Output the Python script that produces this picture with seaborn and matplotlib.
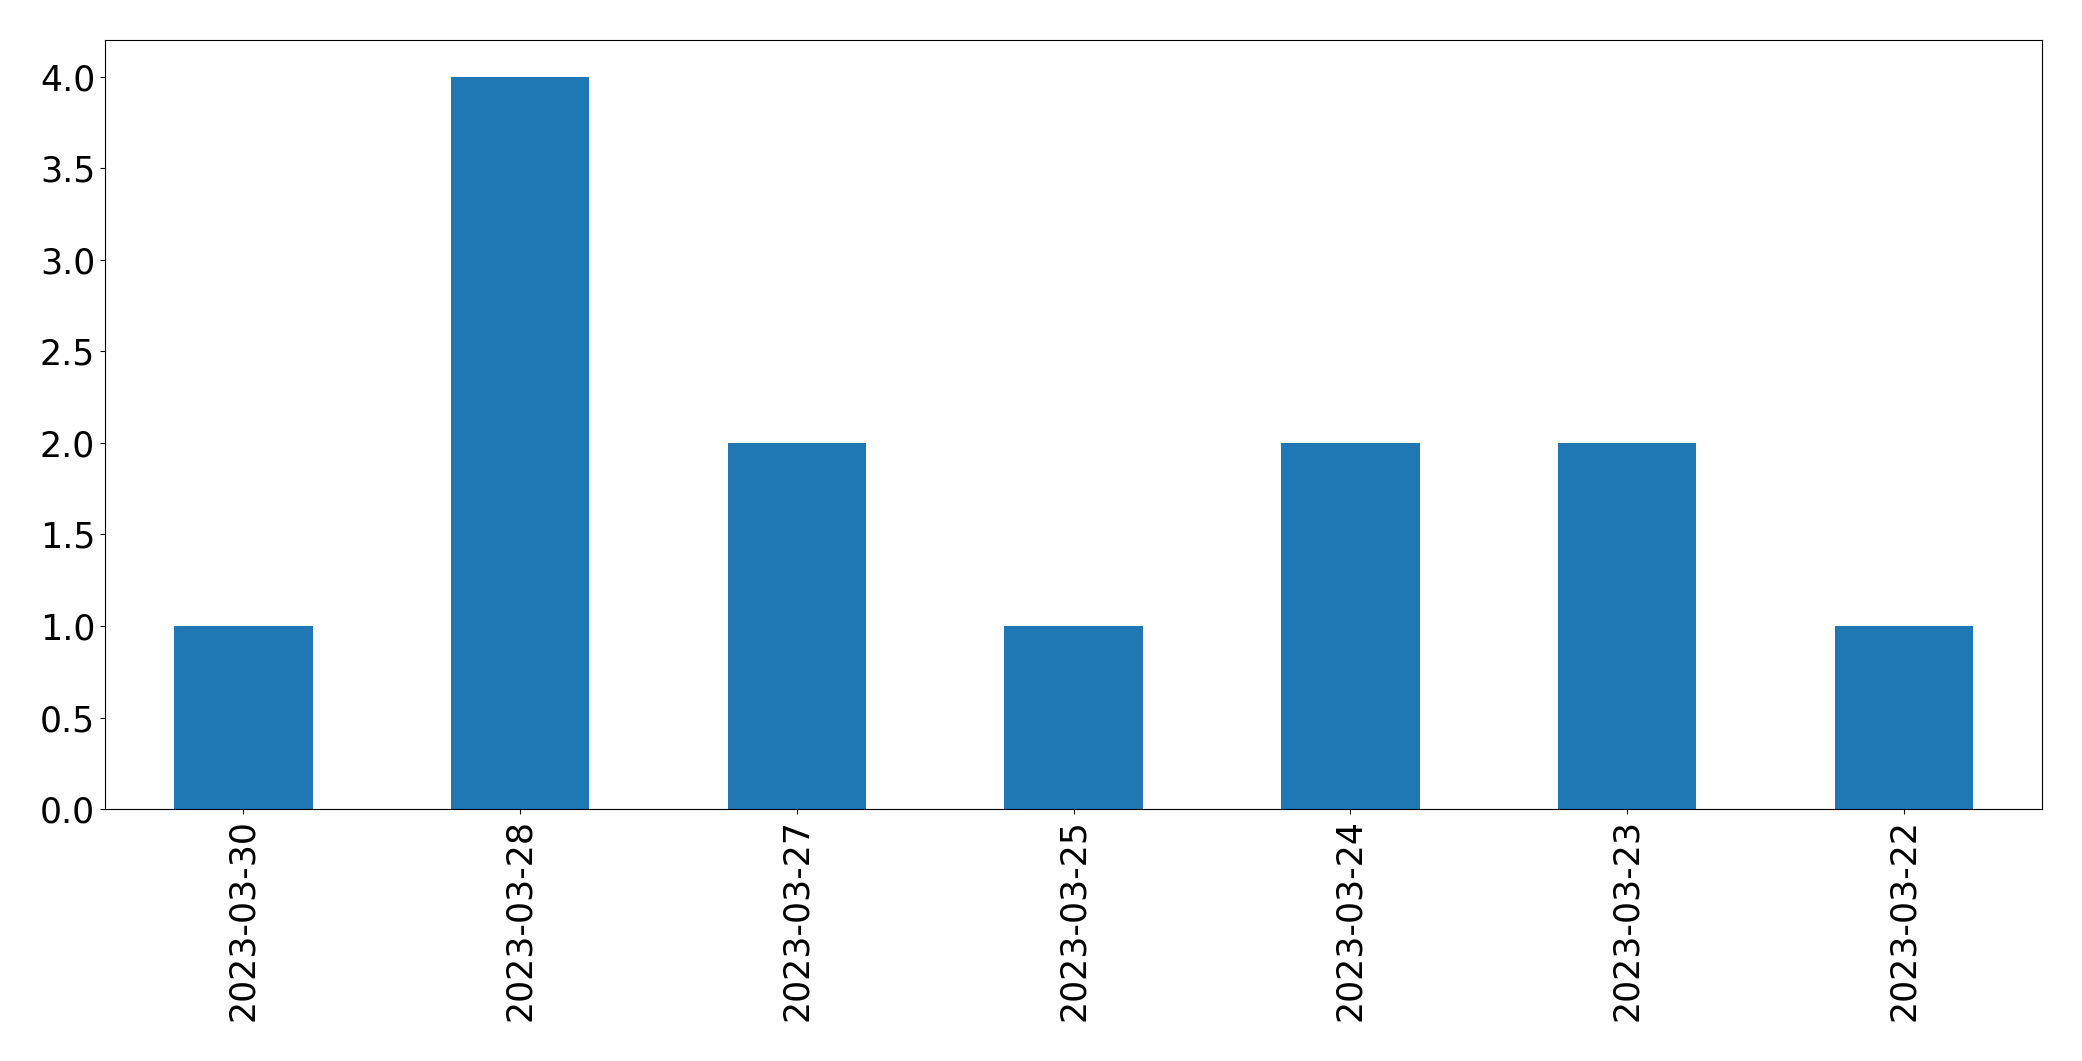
import matplotlib
matplotlib.use("Agg")
import matplotlib.pyplot as plt
import seaborn as sns
import pandas as pd

# counts per date (order as shown)
dates = ["2023-03-30", "2023-03-28", "2023-03-27", "2023-03-25",
         "2023-03-24", "2023-03-23", "2023-03-22"]
counts = [1, 4, 2, 1, 2, 2, 1]

df = pd.DataFrame({"date": dates, "count": counts})

fig, ax = plt.subplots(figsize=(20.82, 10.61), dpi=100)
sns.barplot(x="date", y="count", data=df, order=dates, color="#1f77b4",
            saturation=1, width=0.5, ax=ax)

ax.set_xlim(-0.5, 6.5)
ax.set_ylim(0, 4.2)
ax.set_yticks([0, 0.5, 1.0, 1.5, 2.0, 2.5, 3.0, 3.5, 4.0])
ax.set_yticklabels(["0.0", "0.5", "1.0", "1.5", "2.0", "2.5", "3.0", "3.5", "4.0"])
ax.tick_params(axis="both", labelsize=25)
ax.tick_params(axis="x", labelrotation=90)
ax.set_xlabel("")
ax.set_ylabel("")

fig.subplots_adjust(left=0.0504, right=0.981, top=0.962, bottom=0.2375)
fig.savefig("out.png", dpi=100)
